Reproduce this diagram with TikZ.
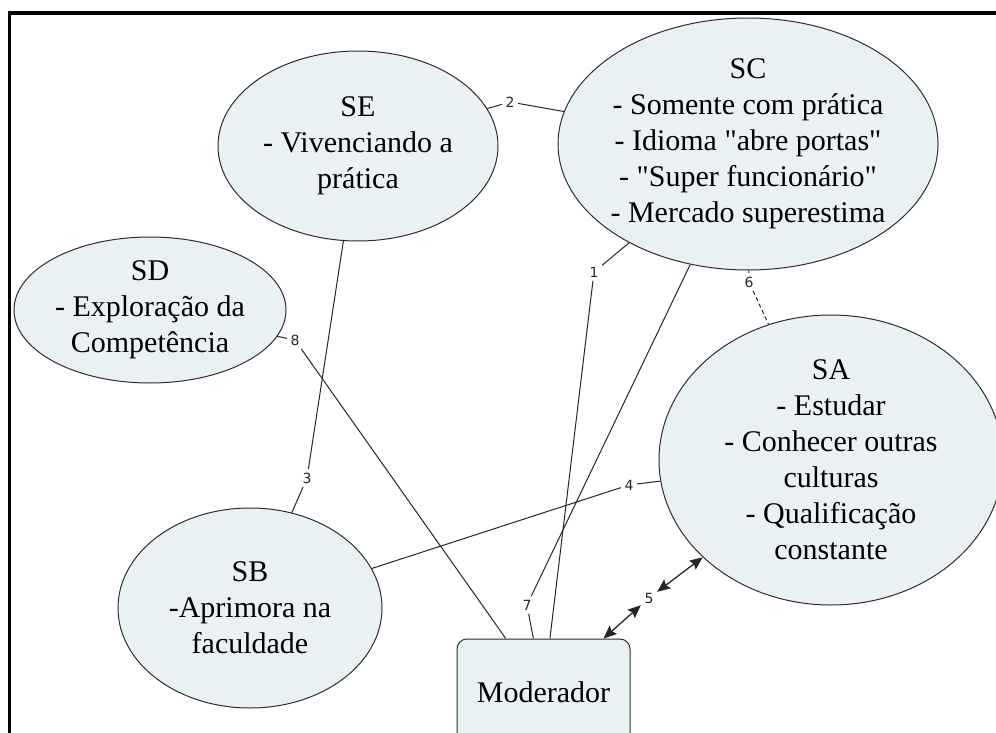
\documentclass[tikz,border=0pt]{standalone}
\usepackage{fontspec}
\setmainfont{Liberation Serif}[Ligatures=TeXOff]
\newfontfamily\numfont{DejaVu Sans}
\usetikzlibrary{shapes.geometric,arrows.meta}
\definecolor{nodefill}{RGB}{234,241,245}
\definecolor{nodeline}{RGB}{45,45,45}
\begin{document}
\begin{tikzpicture}[x=1pt,y=-1pt,
  concept/.style={ellipse, draw=nodeline, fill=nodefill, line width=1pt, inner sep=0pt},
  ctext/.style={align=center, font=\fontsize{30}{36}\selectfont, inner sep=0pt},
  lbl/.style={font=\numfont\fontsize{14}{14}\selectfont, inner sep=3.5pt, text=black!85},
  link/.style={draw=black!85, line width=1pt},
  arrowlink/.style={draw=black!85, line width=1.3pt, {Stealth[length=13pt,width=11pt,inset=2pt]}-{Stealth[length=13pt,width=11pt,inset=2pt]}},
]
\useasboundingbox (0,0) rectangle (996,733);
\clip (0,0) rectangle (996,733);
\fill[white] (0,0) rectangle (996,733);

% frame
\draw[line width=3.5pt] (9.5,740) -- (9.5,13) -- (1000,13);

% concepts
\node[concept, minimum width=280pt, minimum height=190pt,
  label={[ctext]center:SE\\- Vivenciando a\\prática}] (SE) at (358,146) {};
\node[concept, minimum width=380pt, minimum height=252pt,
  label={[ctext]center:SC\\- Somente com prática\\- Idioma "abre portas"\\- "Super funcionário"\\- Mercado superestima}] (SC) at (748,144) {};
\node[concept, minimum width=272pt, minimum height=146pt,
  label={[ctext]center:SD\\- Exploração da\\Competência}] (SD) at (150,310) {};
\node[concept, minimum width=344pt, minimum height=290pt,
  label={[ctext]center:SA\\- Estudar\\- Conhecer outras\\culturas\\- Qualificação\\constante}] (SA) at (831,460) {};
\node[concept, minimum width=264pt, minimum height=200pt,
  label={[ctext]center:SB\\-Aprimora na\\faculdade}] (SB) at (250,608) {};
\node[draw=nodeline, fill=nodefill, line width=1pt, rounded corners=10pt,
  minimum width=173pt, minimum height=106pt, inner sep=0pt,
  font=\fontsize{30}{36}\selectfont] (Mod) at (543.5,692) {Moderador};

% link labels
\node[lbl] (n1) at (594,272) {1};
\node[lbl] (n2) at (510,102) {2};
\node[lbl] (n3) at (307,478) {3};
\node[lbl] (n4) at (629,485) {4};
\node[lbl] (n5) at (649,598) {5};
\node[lbl] (n6) at (749,282) {6};
\node[lbl] (n7) at (527,605) {7};
\node[lbl] (n8) at (295,340) {8};

% connectors
\draw[link] (n1) -- (SC);
\draw[link] (n1) -- (Mod);
\draw[link] (n2) -- (SE);
\draw[link] (n2) -- (SC);
\draw[link] (n3) -- (SE);
\draw[link] (n3) -- (SB);
\draw[link] (n4) -- (SB);
\draw[link] (n4) -- (SA);
\draw[arrowlink] (n5) -- (Mod);
\draw[arrowlink] (n5) -- (SA);
\draw[link] (n6) -- (SC);
\draw[link, dash pattern=on 4pt off 3pt] (n6) -- (SA);
\draw[link] (n7) -- (SC);
\draw[link] (n7) -- (Mod);
\draw[link] (n8) -- (SD);
\draw[link] (n8) -- (Mod);
\end{tikzpicture}
\end{document}
